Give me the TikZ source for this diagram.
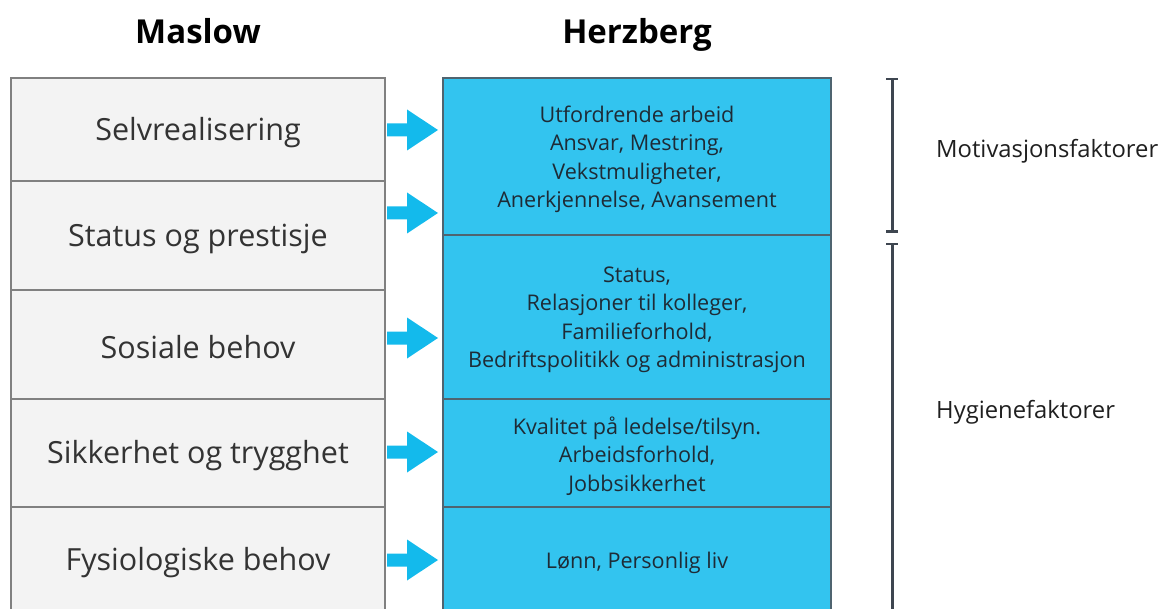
\documentclass[tikz,border=0pt]{standalone}
\usepackage{fontspec}
\setmainfont{Open Sans}
\usetikzlibrary{arrows.meta}
\definecolor{lfill}{HTML}{F3F3F3}
\definecolor{lborder}{HTML}{808080}
\definecolor{rfill}{HTML}{33C4EF}
\definecolor{rborder}{HTML}{4F6470}
\definecolor{arrowc}{HTML}{13BAEC}
\definecolor{ltext}{HTML}{333333}
\definecolor{rtext}{HTML}{1E2B36}
\definecolor{bracketc}{HTML}{3E4650}
\tikzset{
  lbox/.style={draw=lborder, line width=1.3pt, fill=lfill, anchor=north west, minimum width=374pt, inner sep=0pt, outer sep=0pt},
  rbox/.style={draw=rborder, line width=1.3pt, fill=rfill, anchor=north west, minimum width=388pt, inner sep=0pt, outer sep=0pt},
  ltxt/.style={inner sep=0pt, text=ltext, font=\fontsize{30.5}{36}\selectfont},
  rtxt/.style={inner sep=0pt, text=rtext, align=center, font=\fontsize{21.6}{28.5}\selectfont},
  title/.style={anchor=base, inner sep=0pt, font=\fontsize{33}{40}\selectfont\bfseries, text=black},
  sidelabel/.style={anchor=west, inner sep=0pt, font=\fontsize{23.8}{28}\selectfont, text=black!88},
  bracket/.style={draw=bracketc, line width=3pt},
  bigarrow/.pic={\fill[arrowc] (0,-6.5) -- (20,-6.5) -- (20,-20.5) -- (51,0) -- (20,20.5) -- (20,6.5) -- (0,6.5) -- cycle;}
}
\begin{document}
\begin{tikzpicture}[x=1pt,y=-1pt]
\useasboundingbox (0,0) rectangle (1166,609);
\clip (0,0) rectangle (1166,609);
% titles
\node[title] (tmaslow) at (198,44) {Maslow};
\node[title] (therz) at (637,44) {Herzberg};
% left column
\node[lbox, minimum height=103pt] (l1) at (11,78) {};
\node[lbox, minimum height=109pt] (l2) at (11,181) {};
\node[lbox, minimum height=109pt] (l3) at (11,290) {};
\node[lbox, minimum height=108pt] (l4) at (11,399) {};
\node[lbox, minimum height=106pt] (l5) at (11,507) {};
\path (l1.center) ++(0,3) node[ltxt] (tl1) {Selvrealisering};
\path (l2.center) ++(0,3) node[ltxt] (tl2) {Status og prestisje};
\path (l3.center) ++(0,3) node[ltxt] (tl3) {Sosiale behov};
\path (l4.center) ++(0,3) node[ltxt] (tl4) {Sikkerhet og trygghet};
\path (l5.center) ++(0,3) node[ltxt] (tl5) {Fysiologiske behov};
% right column
\node[rbox, minimum height=157pt] (r1) at (443,78) {};
\node[rbox, minimum height=164pt] (r2) at (443,235) {};
\node[rbox, minimum height=108pt] (r3) at (443,399) {};
\node[rbox, minimum height=106pt] (r4) at (443,507) {};
\path (r1.center) ++(0,3) node[rtxt] (tr1) {Utfordrende arbeid\\Ansvar, Mestring,\\Vekstmuligheter,\\Anerkjennelse, Avansement};
\path (r2.center) ++(0,3) node[rtxt] (tr2) {Status,\\Relasjoner til kolleger,\\Familieforhold,\\Bedriftspolitikk og administrasjon};
\path (r3.center) ++(0,3) node[rtxt] (tr3) {Kvalitet på ledelse/tilsyn.\\Arbeidsforhold,\\Jobbsikkerhet};
\path (r4.center) ++(0,3) node[rtxt] (tr4) {Lønn, Personlig liv};
% arrows
\pic at (387,130) {bigarrow};
\pic at (387,213) {bigarrow};
\pic at (387,338) {bigarrow};
\pic at (387,452) {bigarrow};
\pic at (387,560) {bigarrow};
% brackets
\coordinate (m1) at (892,78);
\coordinate (m2) at (892,233);
\coordinate (h1) at (892,243);
\coordinate (h2) at (892,640);
\draw[bracket, {Bar[width=12pt,line width=2.5pt]}-{Bar[width=12pt,line width=2.5pt]}] (m1) -- (m2);
\draw[bracket, {Bar[width=12pt,line width=2.5pt]}-] (h1) -- (h2);
\node[sidelabel] (mot) at (936,151) {Motivasjonsfaktorer};
\node[sidelabel] (hyg) at (936,412) {Hygienefaktorer};
\end{tikzpicture}
\end{document}
